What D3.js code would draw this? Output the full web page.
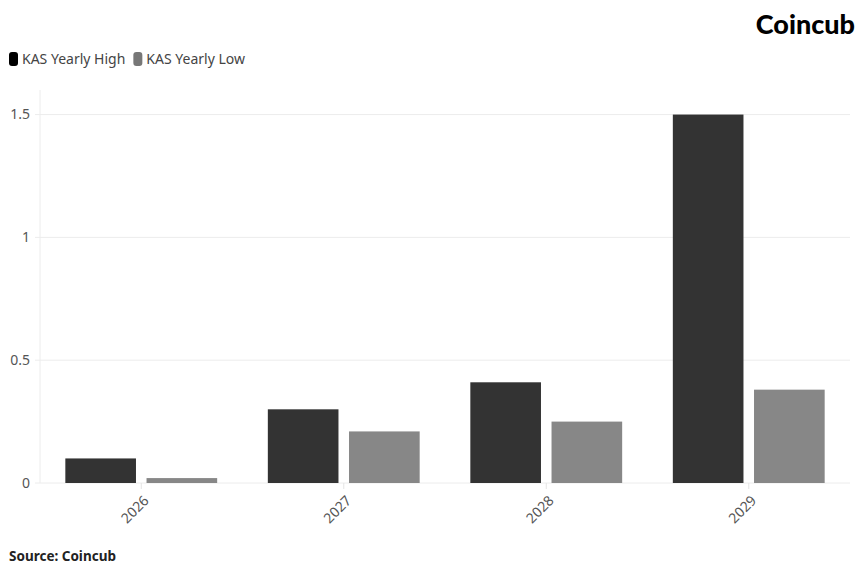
<!DOCTYPE html>
<html><head><meta charset="utf-8">
<script src="https://cdn.jsdelivr.net/npm/d3@7"></script>
<style>body{margin:0;background:#fff;font-family:"Noto Sans",sans-serif;}</style>
</head><body>
<svg id="c" width="868" height="572"></svg>
<script>
const categories = ["2026","2027","2028","2029"];
const seriesNames = ["KAS Yearly High","KAS Yearly Low"];
const highValues = [0.1, 0.3, 0.41, 1.5];
const lowValues = [0.02, 0.21, 0.25, 0.38];
const yTicks = [0, 0.5, 1, 1.5];
const colors = ["#333333", "#878787"];

const svg = d3.select("#c");
const m = {left:40, right:18, top:90, bottom:89};
const W = 868, H = 572;
const x = d3.scaleBand().domain(categories).range([m.left, W - m.right]).padding(0);
const xs = d3.scaleBand().domain(seriesNames).range([0, x.bandwidth()]).paddingInner(0.13).paddingOuter(0.312);
const y = d3.scaleLinear().domain([0, 1.6]).range([H - m.bottom, m.top]);

// grid
svg.append("g").selectAll("line").data(yTicks).join("line")
  .attr("x1", m.left - 5).attr("x2", W - m.right)
  .attr("y1", d => y(d)).attr("y2", d => y(d))
  .attr("stroke", "#ececec").attr("stroke-width", 1);
// y axis line
svg.append("line").attr("x1", m.left).attr("x2", m.left).attr("y1", m.top).attr("y2", y(0))
  .attr("stroke", "#ececec");
// y labels
svg.append("g").selectAll("text").data(yTicks).join("text")
  .attr("x", m.left - 10).attr("y", d => y(d)).attr("dy", "0.35em")
  .attr("text-anchor", "end").attr("font-size", 14).attr("fill", "#555")
  .text(d => d3.format("")(d));

const data = categories.map((c, i) => ({c, vals: [highValues[i], lowValues[i]]}));
const g = svg.append("g").selectAll("g").data(data).join("g")
  .attr("transform", d => `translate(${x(d.c)},0)`);
g.selectAll("rect").data(d => d.vals.map((v, j) => ({v, s: seriesNames[j], j}))).join("rect")
  .attr("x", d => xs(d.s)).attr("width", xs.bandwidth())
  .attr("y", d => y(d.v)).attr("height", d => y(0) - y(d.v))
  .attr("fill", d => colors[d.j]);

// x ticks
svg.append("g").selectAll("line").data(categories).join("line")
  .attr("x1", d => x(d) + x.bandwidth()/2).attr("x2", d => x(d) + x.bandwidth()/2)
  .attr("y1", y(0)).attr("y2", y(0) + 6).attr("stroke", "#e4e4e4");
svg.append("g").selectAll("text").data(categories).join("text")
  .attr("transform", d => `translate(${x(d) + x.bandwidth()/2 + 5},${y(0) + 15}) rotate(-45)`)
  .attr("text-anchor", "end").attr("dy", "0.35em").attr("font-size", 14).attr("fill", "#555")
  .text(d => d);

// legend
const lg = svg.append("g");
let lx = 9;
seriesNames.forEach((s, i) => {
  lg.append("rect").attr("x", lx).attr("y", 52).attr("width", 9).attr("height", 14).attr("rx", 3)
    .attr("fill", i === 0 ? "#000" : "#777");
  const t = lg.append("text").attr("x", lx + 13).attr("y", 64).attr("font-size", 14).attr("fill", "#444").text(s);
  lx += 13 + t.node().getComputedTextLength() + 8;
});

// title
svg.append("text").attr("x", 855).attr("y", 34).attr("text-anchor", "end")
  .attr("font-size", 27).attr("font-weight", 900).attr("fill", "#000")
  .attr("font-family", "Lato, sans-serif").text("Coincub");
// source
svg.append("text").attr("x", 9).attr("y", 561).attr("font-size", 13.5).attr("font-weight", 700)
  .attr("fill", "#222").text("Source: Coincub");
</script>
</body></html>
